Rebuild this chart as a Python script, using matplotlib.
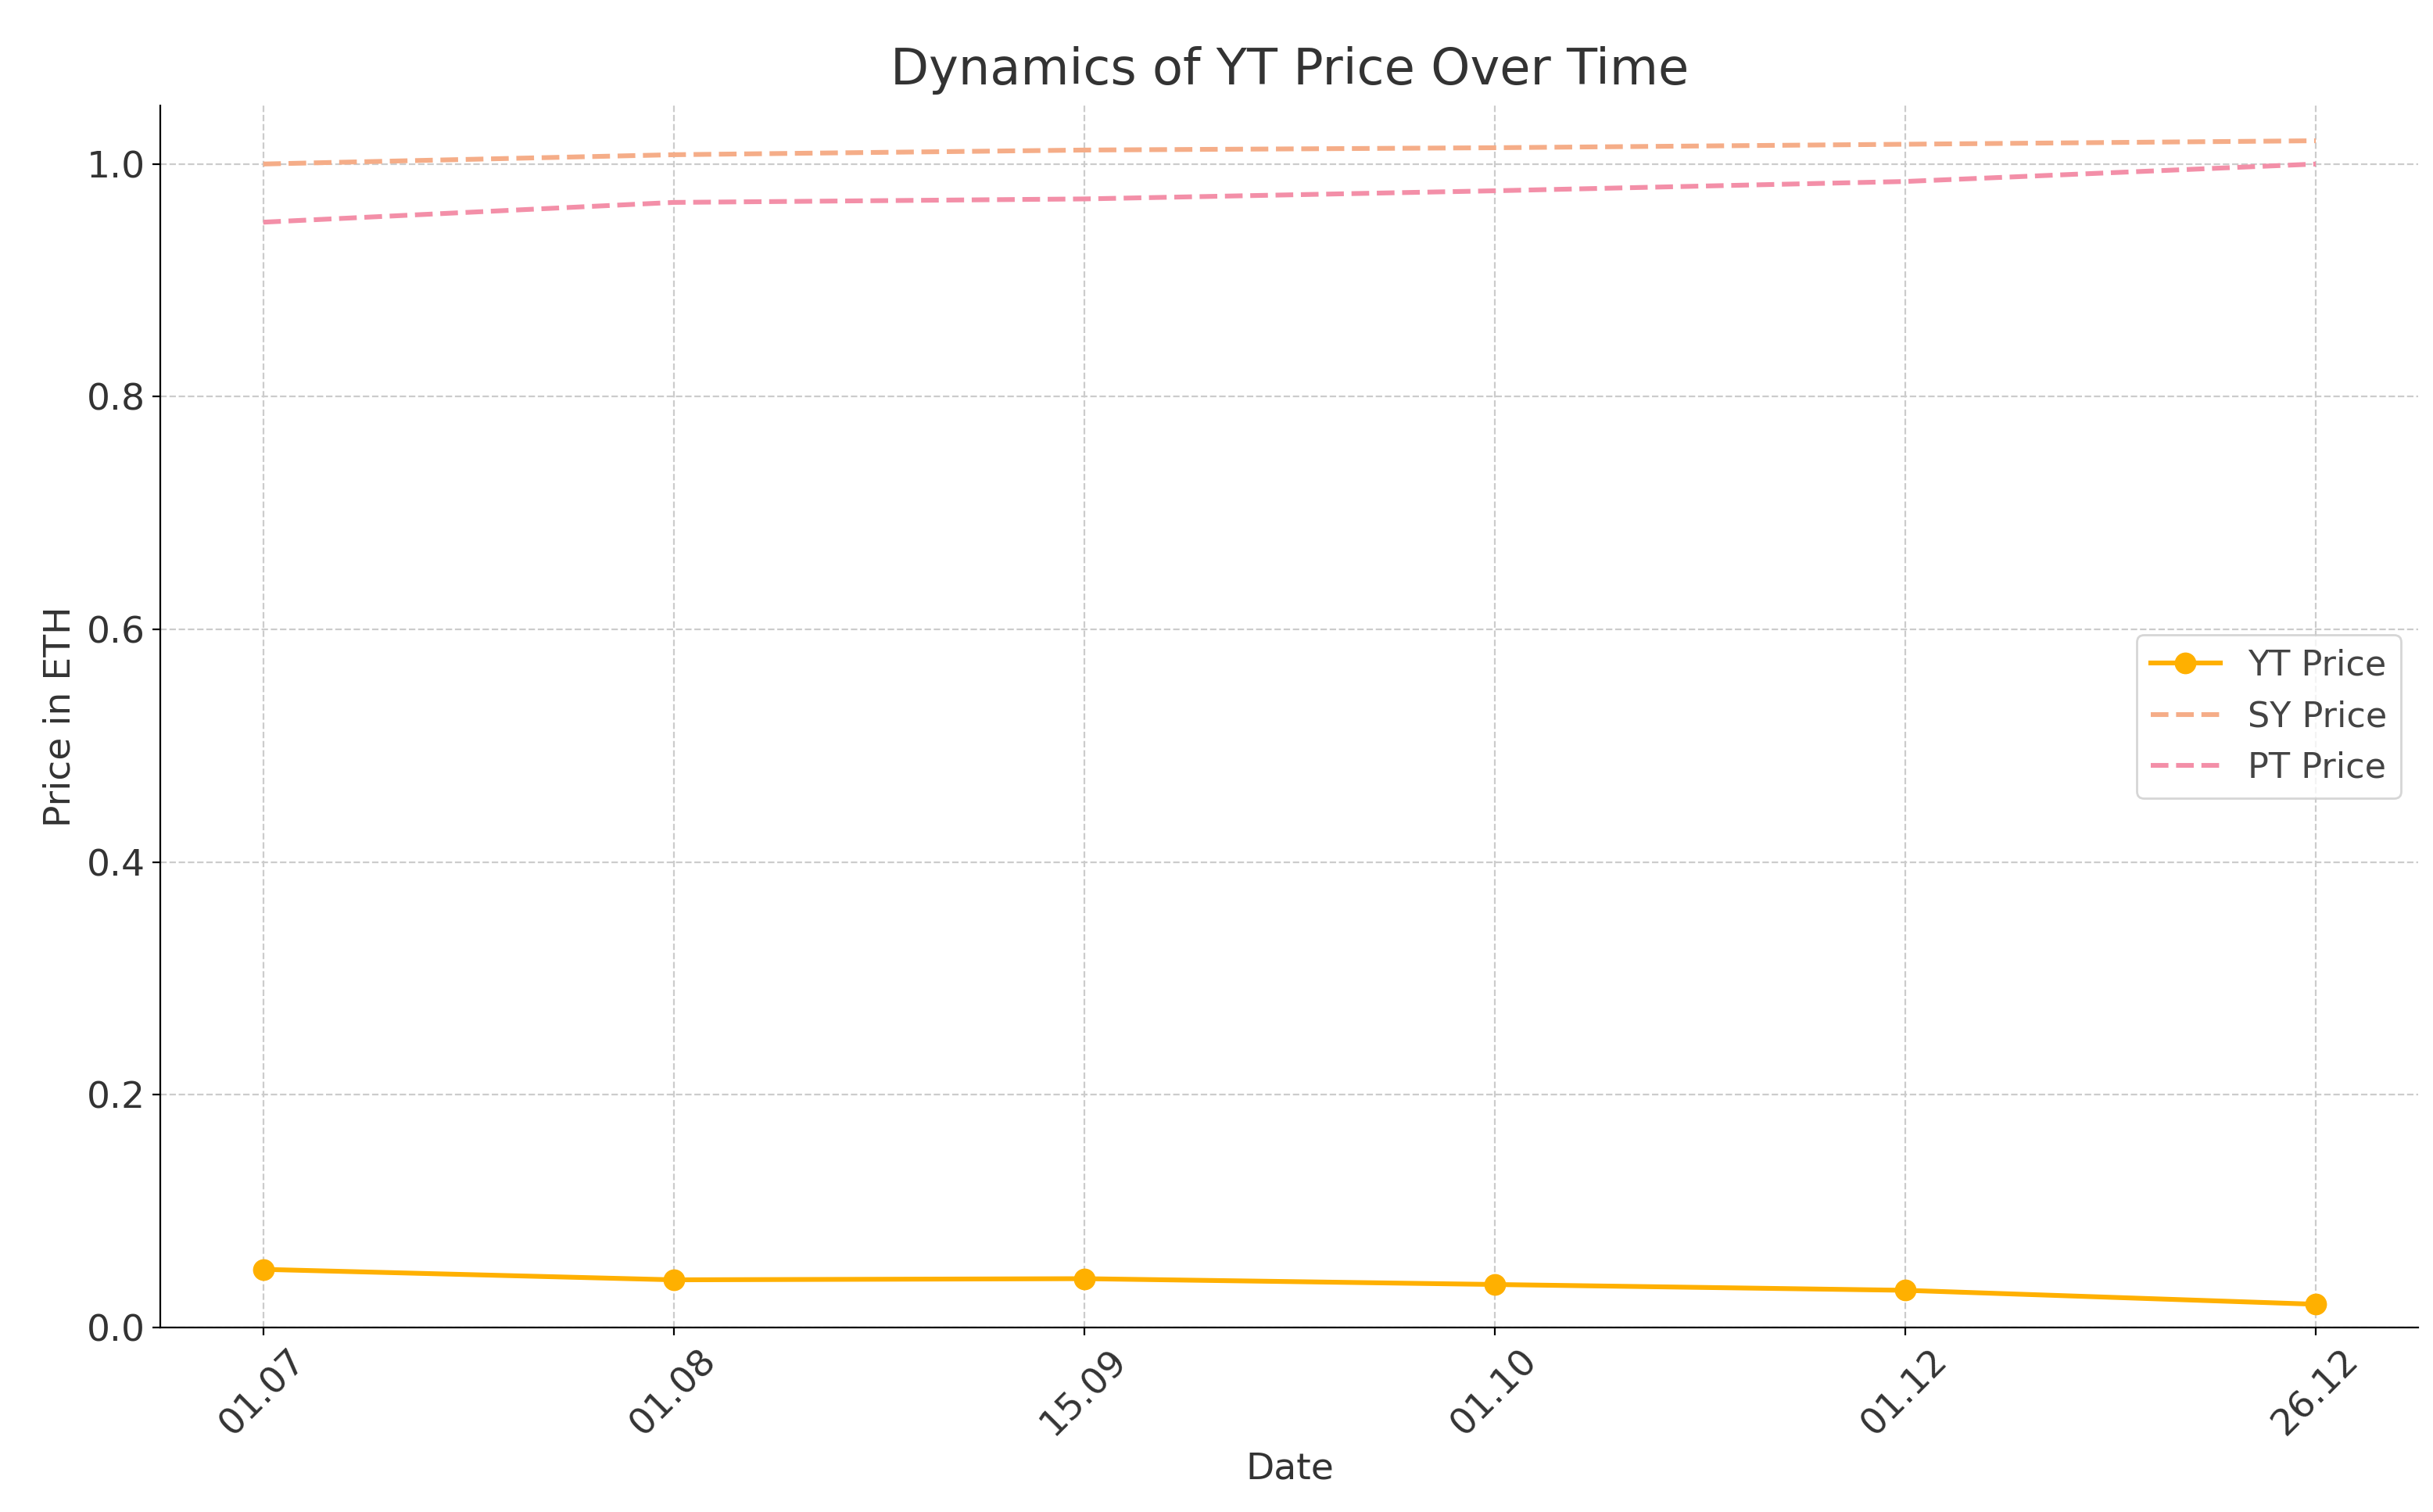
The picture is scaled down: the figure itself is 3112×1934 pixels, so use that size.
import matplotlib
matplotlib.use("Agg")
import matplotlib.pyplot as plt

dates = ["01.07", "01.08", "15.09", "01.10", "01.12", "26.12"]
yt_price = [0.050, 0.041, 0.042, 0.037, 0.032, 0.020]
sy_price = [1.000, 1.008, 1.012, 1.014, 1.017, 1.020]
pt_price = [0.950, 0.967, 0.970, 0.977, 0.985, 1.000]

plt.rcParams['font.family'] = ['DejaVu Sans']
fig = plt.figure(figsize=(15.56, 9.67), dpi=200)
ax = fig.add_axes([0.066, 0.122, 0.928, 0.808])

x = range(len(dates))
ax.plot(x, yt_price, color='#FFB000', marker='o', markersize=9, linewidth=2.2, label='YT Price')
ax.plot(x, sy_price, color='#F5AD88', linestyle='--', linewidth=2.2, label='SY Price')
ax.plot(x, pt_price, color='#F38FA8', linestyle='--', linewidth=2.2, label='PT Price')

ax.set_xticks(list(x))
ax.set_xticklabels(dates, rotation=45, fontsize=17, color='#333333')
ax.tick_params(axis='y', labelsize=17, labelcolor='#333333')
ax.set_xlim(-0.25, 5.25)
ax.set_ylim(0, 1.05)
ax.grid(True, linestyle='--', color='#cccccc', linewidth=0.8)
ax.spines['top'].set_visible(False)
ax.spines['right'].set_visible(False)
ax.set_title('Dynamics of YT Price Over Time', fontsize=23, color='#333333', pad=10)
ax.set_xlabel('Date', fontsize=17, color='#333333')
ax.set_ylabel('Price in ETH', fontsize=17, color='#333333')
ax.legend(loc='center right', fontsize=16, labelcolor='#444444')

fig.savefig('out.png', dpi=200)
